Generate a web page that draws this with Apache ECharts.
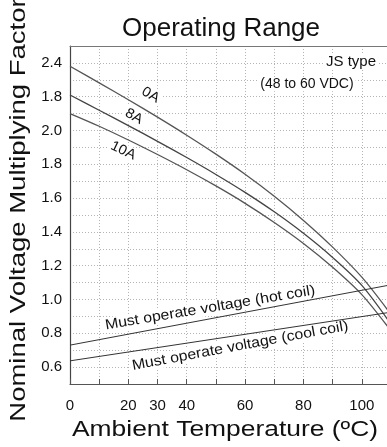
<!DOCTYPE html>
<html>
<head>
<meta charset="utf-8">
<script src="https://cdn.jsdelivr.net/npm/echarts@6/dist/echarts.min.js"></script>
<style>
  html, body { margin: 0; padding: 0; background: #fff; }
  #main { width: 387px; height: 447px; }
</style>
</head>
<body>
<div id="main"></div>
<script>
// ambient temperature (degC) and multiplying factor per coil current
var temps = [0, 10, 20, 30, 40, 50, 60, 70, 80, 90, 100, 110];
var curve0A = [2.38, 2.282, 2.182, 2.079, 1.972, 1.86, 1.741, 1.611, 1.468, 1.31, 1.132, 0.912];
var curve8A = [2.21, 2.12, 2.029, 1.936, 1.84, 1.74, 1.634, 1.519, 1.392, 1.249, 1.084, 0.854];
var curve10A = [2.10, 2.025, 1.944, 1.858, 1.768, 1.672, 1.569, 1.456, 1.332, 1.191, 1.029, 0.814];

// must operate voltage lines (straight, two end points)
var mustTemps = [0, 110];
var mustHot = [0.73, 1.087];
var mustCool = [0.637, 0.925];

var xLabels = [0, 20, 30, 40, 60, 80, 100];
var yTickValues = [0.6, 0.8, 1.0, 1.2, 1.4, 1.6, 1.8, 2.0, 2.2, 2.4];
var yTickLabels = ['0.6', '0.8', '1.0', '1.2', '1.4', '1.6', '1.8', '2.0', '1.8', '2.4'];

var FONT = '"Liberation Sans", Arial, sans-serif';

function pairs(xs, ys) {
    var res = [];
    for (var i = 0; i < xs.length; i++) res.push([xs[i], ys[i]]);
    return res;
}

var gridDots = { color: '#b4b4b4', width: 1, type: [1, 2] };

var chart = echarts.init(document.getElementById('main'));

function curve(name, values, color) {
    return {
        name: name, type: 'line', symbol: 'none', smooth: 0.3,
        data: pairs(temps, values),
        lineStyle: { color: color, width: 1.3 }
    };
}

var option = {
    animation: false,
    backgroundColor: '#fff',
    grid: { left: 70, right: -4, top: 46, bottom: 63, outerBoundsMode: 'none' },
    xAxis: [{
        type: 'value',
        min: 0, max: 110, interval: 10,
        axisLine: { show: true, lineStyle: { color: '#555', width: 1.2 } },
        axisTick: { show: true, inside: true, length: 5, lineStyle: { color: '#555' } },
        axisLabel: {
            margin: 14, fontSize: 15, color: '#111', fontFamily: FONT,
            formatter: function (v) { return xLabels.indexOf(v) >= 0 ? String(v) : ''; }
        },
        splitLine: { show: true, lineStyle: gridDots }
    }, {
        // top frame line
        type: 'value', position: 'top',
        min: 0, max: 110, interval: 10,
        axisLine: { show: true, lineStyle: { color: '#777', width: 1 } },
        axisTick: { show: false }, axisLabel: { show: false }, splitLine: { show: false }
    }],
    yAxis: {
        type: 'value',
        min: 0.5, max: 2.5, interval: 0.1,
        axisLine: { show: true, lineStyle: { color: '#444', width: 1.2 } },
        axisTick: { show: false },
        axisLabel: {
            margin: 8, fontSize: 15, color: '#111', fontFamily: FONT,
            formatter: function (v) {
                for (var i = 0; i < yTickValues.length; i++) {
                    if (Math.abs(v - yTickValues[i]) < 1e-6) return yTickLabels[i];
                }
                return '';
            }
        },
        splitLine: { show: true, lineStyle: gridDots }
    },
    series: [
        curve('0A', curve0A, '#555'),
        curve('8A', curve8A, '#444'),
        curve('10A', curve10A, '#555'),
        { name: 'hot', type: 'line', symbol: 'none', data: pairs(mustTemps, mustHot),
          lineStyle: { color: '#333', width: 1 } },
        { name: 'cool', type: 'line', symbol: 'none', data: pairs(mustTemps, mustCool),
          lineStyle: { color: '#333', width: 1 } }
    ]
};
chart.setOption(option);

function textEl(text, px, py, deg, size, scale, boxed) {
    var style = {
        text: text, fill: '#111', fontSize: size, fontFamily: FONT,
        align: 'center', verticalAlign: 'middle'
    };
    if (boxed) {
        style.backgroundColor = '#fff';
        style.padding = [0, 2];
    }
    return {
        type: 'text', x: px, y: py, z: boxed ? 1 : 5,
        rotation: deg * Math.PI / 180, scaleX: scale || 1,
        style: style
    };
}

// text placed on the plot, anchored at data coordinates
function noteAt(text, x, y, deg, size, scale) {
    var p = chart.convertToPixel({ gridIndex: 0 }, [x, y]);
    return textEl(text, p[0], p[1], deg, size, scale, true);
}

chart.setOption({
    graphic: [
        textEl('Operating Range', 221, 29, 0, 26, 1),
        textEl('Ambient Temperature (ºC)', 225, 430, 0, 22, 1.2),
        textEl('Nominal Voltage Multiplying Factor', 19, 210, 90, 22, 1.25),
        noteAt('0A', 27.6, 2.21, -30.5, 14, 1.05),
        noteAt('8A', 21.9, 2.083, -28.4, 14, 1.05),
        noteAt('10A', 18.2, 1.881, -25.8, 14, 1.05),
        noteAt('JS type', 96.3, 2.406, 0, 15, 1),
        noteAt('(48 to 60 VDC)', 81.2, 2.273, 0, 14, 1),
        noteAt('Must operate voltage (hot coil)', 48, 0.95, 9.5, 14.5, 1.09),
        noteAt('Must operate voltage (cool coil)', 58.3, 0.725, 10.5, 14.5, 1.09)
    ]
});
</script>
</body>
</html>
